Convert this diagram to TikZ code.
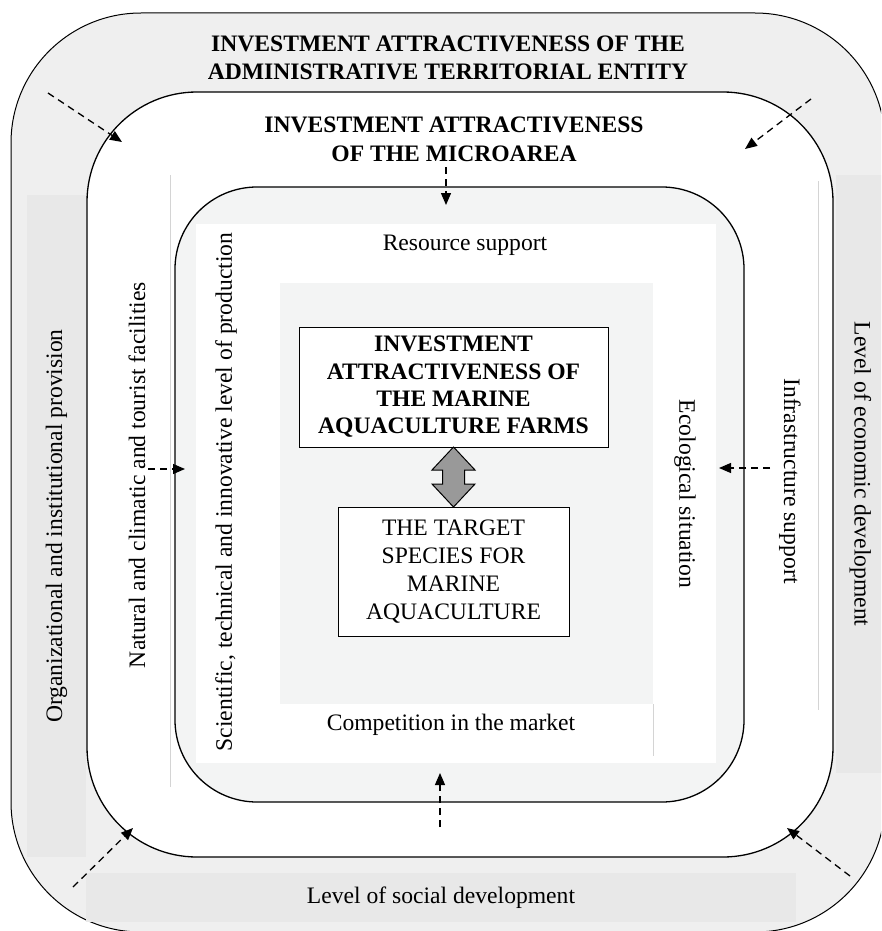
\documentclass[tikz,border=0pt]{standalone}
\usepackage{fontspec}
\setmainfont{Liberation Serif}
\usetikzlibrary{positioning,arrows.meta,calc}
\definecolor{RingGray}{RGB}{239,239,239}
\definecolor{BandGray}{RGB}{232,232,232}
\definecolor{CoreGray}{RGB}{243,244,244}
\definecolor{EdgeGray}{RGB}{212,212,212}
\definecolor{ArrowGray}{RGB}{153,153,153}
\tikzset{
  txt/.style={font=\fontsize{23.6}{28}\selectfont,align=center,inner sep=0pt},
  title/.style={font=\fontsize{23.6}{28.5}\selectfont\bfseries,align=center,inner sep=0pt},
  ring/.style={draw=black,line width=1.3pt,inner sep=0pt,outer sep=0pt},
  band/.style={fill=BandGray,inner sep=0pt,outer sep=0pt,font=\fontsize{23.6}{28}\selectfont},
  plate/.style={inner sep=0pt,outer sep=0pt},
  edge/.style={draw=EdgeGray,line width=0.6pt},
  box/.style={draw=black,fill=white,line width=0.8pt,inner sep=0pt,outer sep=0pt,
    align=center,font=\fontsize{23.6}{28}\selectfont},
  strongbox/.style={draw=black,fill=white,line width=0.8pt,inner sep=0pt,outer sep=0pt,
    align=center,font=\fontsize{23.6}{27.3}\selectfont\bfseries},
  push/.style={-{Triangle[length=12pt,width=10pt]},dash pattern=on 7pt off 5pt,line width=1.3pt}
}

\begin{document}
\begin{tikzpicture}[x=1pt,y=-1pt]
  \useasboundingbox (0,0) rectangle (881,931);
  \clip (0,0) rectangle (881,931);

  \node[ring,line width=1pt,fill=RingGray,minimum width=874pt,minimum height=919pt,rounded corners=130pt] (entity) at (448,472.5) {};
  \node[band,rotate=90,minimum width=662pt,minimum height=59pt] (org) at (56.5,526) {Organizational and institutional provision};
  \node[band,rotate=-90,minimum width=598pt,minimum height=49pt] (econ) at (860.5,474) {Level of economic development};
  \node[band,minimum width=710pt,minimum height=49pt] (social) at (441,897.5) {Level of social development};

  \node[ring,fill=white,minimum width=746pt,minimum height=765pt,rounded corners=110pt] (micro) at (460,474.5) {};
  \draw[edge] (170,175) -- (170,787);
  \draw[edge] (818,181) -- (818,710);

  \node[ring,fill=CoreGray,minimum width=569pt,minimum height=615pt,rounded corners=82pt] (zone) at (459.5,494.5) {};
  \node[plate,fill=white,minimum width=520pt,minimum height=539pt] (field) at (456,493.5) {};
  \node[plate,fill=CoreGray,minimum width=373pt,minimum height=421pt] (core) at (466.5,493.5) {};
  \draw[edge] (653,704) -- (653,756);

  \node[strongbox,minimum width=309pt,minimum height=120pt] (farms) at (453.5,387) {INVESTMENT\\ATTRACTIVENESS OF\\THE MARINE\\AQUACULTURE FARMS};
  \node[box,minimum width=231pt,minimum height=129pt,below=60pt of farms] (species) {THE TARGET\\SPECIES FOR\\MARINE\\AQUACULTURE};
  \draw[fill=ArrowGray,line width=1pt] (farms.south) -- ++(21.5,23) -- ++(-10.5,0) -- ++(0,14) -- ++(10.5,0) -- (species.north)
    -- ++(-21.5,-23) -- ++(10.5,0) -- ++(0,-14) -- ++(-10.5,0) -- cycle;

  \node[title] (entityT) at (448,58) {INVESTMENT ATTRACTIVENESS OF THE\\ADMINISTRATIVE TERRITORIAL ENTITY};
  \node[title] (microT) at (454,139.5) {INVESTMENT ATTRACTIVENESS\\OF THE MICROAREA};
  \node[txt,rotate=90] (natural) at (137,475) {Natural and climatic and tourist facilities};
  \node[txt,rotate=90] (science) at (226,492) {Scientific, technical and innovative level of production};
  \node[txt,rotate=-90] (ecology) at (685,494) {Ecological situation};
  \node[txt,rotate=-90] (infra) at (790,481) {Infrastructure support};
  \node[txt] (resource) at (465,245) {Resource support};
  \node[txt] (market) at (451,725) {Competition in the market};

  \coordinate (nw0) at (48,93);   \coordinate (nw1) at (122,142);
  \coordinate (ne0) at (811,99);  \coordinate (ne1) at (745,149);
  \coordinate (sw0) at (73,887);  \coordinate (sw1) at (133,828);
  \coordinate (se0) at (850,876); \coordinate (se1) at (787,828);
  \coordinate (n0) at (446,167);  \coordinate (n1) at (446,205);
  \coordinate (s0) at (440,827);  \coordinate (s1) at (440,773);
  \coordinate (w0) at (148,469);  \coordinate (w1) at (185,469);
  \coordinate (e0) at (770,468);  \coordinate (e1) at (719,468);
  \draw[push] (nw0) -- (nw1);
  \draw[push] (ne0) -- (ne1);
  \draw[push] (sw0) -- (sw1);
  \draw[push] (se0) -- (se1);
  \draw[push] (n0) -- (n1);
  \draw[push] (s0) -- (s1);
  \draw[push] (w0) -- (w1);
  \draw[push] (e0) -- (e1);
\end{tikzpicture}
\end{document}
